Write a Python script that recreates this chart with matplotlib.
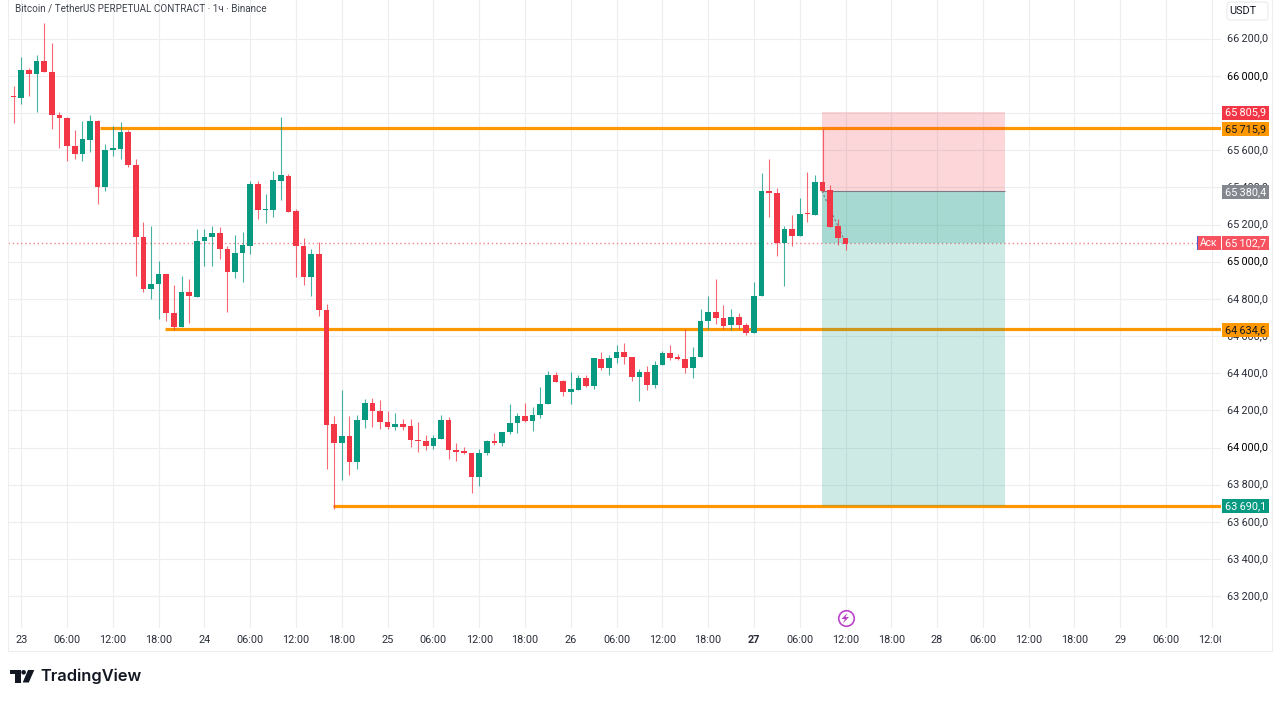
import matplotlib
matplotlib.use("Agg")
import matplotlib.pyplot as plt
from matplotlib.patches import Rectangle, FancyBboxPatch, Polygon, Circle

plt.rcParams['font.family'] = ['Roboto', 'DejaVu Sans']

hours = list(range(-2, 109))
opens = [65856, 65888, 65883, 66030, 66010, 66078, 66021, 65791, 65773, 65623,
         65578, 65657, 65759, 65400, 65603, 65605, 65698, 65522, 65133, 64853,
         64880, 64934, 64726, 64647, 64837, 64812, 65110, 65131, 65155, 65069,
         64947, 65047, 65087, 65420, 65277, 65278, 65436, 65463, 65271, 65083,
         64920, 65042, 64742, 64124, 64024, 64061, 63923, 64147, 64239, 64194,
         64137, 64108, 64127, 64115, 64043, 64036, 64007, 64047, 64146, 63988,
         63979, 63970, 63841, 63968, 64036, 64024, 64081, 64131, 64172, 64144,
         64174, 64232, 64389, 64359, 64298, 64312, 64375, 64331, 64478, 64430,
         64482, 64516, 64489, 64382, 64405, 64337, 64443, 64507, 64486, 64477,
         64430, 64487, 64681, 64728, 64697, 64659, 64701, 64661, 64615, 64814,
         65380, 65371, 65101, 65176, 65140, 65258, 65251, 65429, 65386, 65190,
         65127]
highs = [65888, 65947, 66100, 66042, 66112, 66283, 66175, 65804, 65781, 65709,
         65759, 65791, 65763, 65634, 65730, 65752, 65709, 65553, 65214, 65192,
         65002, 64934, 64877, 64923, 64905, 65175, 65176, 65192, 65189, 65087,
         65144, 65158, 65436, 65435, 65365, 65486, 65781, 65472, 65284, 65128,
         65070, 65106, 64773, 64167, 64307, 64172, 64176, 64262, 64267, 64257,
         64194, 64187, 64153, 64151, 64135, 64070, 64070, 64176, 64163, 64027,
         64002, 63970, 63993, 64038, 64077, 64085, 64235, 64187, 64241, 64217,
         64328, 64414, 64407, 64366, 64404, 64388, 64389, 64482, 64512, 64498,
         64554, 64563, 64489, 64423, 64439, 64464, 64518, 64554, 64503, 64636,
         64543, 64746, 64817, 64907, 64765, 64746, 64726, 64672, 64893, 65479,
         65552, 65395, 65192, 65249, 65343, 65482, 65466, 65716, 65414, 65230,
         65127]
lows = [65856, 65746, 65849, 65890, 65804, 66019, 65714, 65612, 65544, 65553,
        65540, 65589, 65311, 65382, 65571, 65553, 65512, 64923, 64836, 64800,
        64689, 64680, 64630, 64647, 64669, 64809, 64977, 64977, 65015, 64728,
        64913, 64888, 65042, 65230, 65209, 65243, 65332, 65269, 64918, 64875,
        64816, 64706, 63885, 63669, 63823, 63851, 63882, 64104, 64110, 64102,
        64102, 64097, 64097, 64002, 63975, 63988, 63991, 64045, 63939, 63930,
        63966, 63758, 63794, 63959, 64011, 64006, 64074, 64076, 64137, 64090,
        64160, 64232, 64350, 64276, 64232, 64310, 64328, 64313, 64419, 64389,
        64453, 64450, 64360, 64252, 64310, 64321, 64443, 64469, 64471, 64403,
        64376, 64487, 64638, 64667, 64638, 64633, 64636, 64604, 64615, 64814,
        65242, 65029, 64869, 65086, 65140, 65215, 65251, 65373, 65185, 65092,
        65063]
closes = [65888, 65884, 66032, 66010, 66078, 66019, 65790, 65771, 65621, 65578,
          65659, 65759, 65400, 65601, 65608, 65698, 65519, 65131, 64853, 64880,
          64934, 64726, 64646, 64837, 64814, 65112, 65133, 65155, 65067, 64947,
          65049, 65089, 65420, 65278, 65280, 65438, 65465, 65269, 65083, 64920,
          65042, 64739, 64122, 64025, 64063, 63923, 64149, 64239, 64194, 64135,
          64108, 64127, 64113, 64043, 64033, 64007, 64049, 64146, 63986, 63975,
          63968, 63841, 63970, 64036, 64024, 64085, 64133, 64172, 64144, 64176,
          64235, 64389, 64355, 64298, 64314, 64375, 64332, 64482, 64430, 64484,
          64516, 64487, 64382, 64407, 64337, 64446, 64509, 64482, 64475, 64430,
          64489, 64683, 64728, 64695, 64654, 64703, 64659, 64615, 64815, 65380,
          65369, 65101, 65176, 65140, 65257, 65255, 65429, 65382, 65188, 65127,
          65097]

price_ticks = [66200, 66000, 65800, 65600, 65400, 65200, 65000, 64800, 64600,
               64400, 64200, 64000, 63800, 63600, 63400, 63200]
time_ticks = [0, 6, 12, 18, 24, 30, 36, 42, 48, 54, 60, 66, 72, 78, 84, 90, 96,
              102, 108, 114, 120, 126, 132, 138, 144, 150, 156]
time_labels = ['23', '06:00', '12:00', '18:00', '24', '06:00', '12:00', '18:00',
               '25', '06:00', '12:00', '18:00', '26', '06:00', '12:00', '18:00',
               '27', '06:00', '12:00', '18:00', '28', '06:00', '12:00', '18:00',
               '29', '06:00', '12:00']

level_top = 65718.0
level_mid = 64637.0
level_low = 63684.0
level_top_start, level_mid_start, level_low_start = 10.3, 18.8, 40.9
stop_price, entry_price, target_price = 65805.9, 65380.4, 63684.0
current_price = 65102.7
box_start, box_end = 104.9, 128.9
signal_hour = 108
signal_price = 63082

GREEN = '#089981'
RED = '#f23645'
ORANGE = '#ff9800'
GRID = '#edeef0'
TXT = '#131722'
TXT2 = '#2a2e39'

W, H = 1280, 701
fig = plt.figure(figsize=(W / 100, H / 100), dpi=100, facecolor='white')


def axes_px(x0, y0, x1, y1, **kw):
    return fig.add_axes([x0 / W, 1 - y1 / H, (x1 - x0) / W, (y1 - y0) / H], **kw)


PANE_L, PANE_R, PANE_B = 8, 1221, 628
ylim = (63029, 66408)
xlim = (-1.743, 157.2)

ax = axes_px(PANE_L, 0, PANE_R, PANE_B)
ax.set_xlim(xlim)
ax.set_ylim(ylim)
for s in ax.spines.values():
    s.set_visible(False)
ax.set_xticks(time_ticks)
ax.set_yticks(price_ticks)
ax.tick_params(left=False, bottom=False, labelleft=False, labelbottom=False)
ax.grid(True, color=GRID, lw=0.85, zorder=0)
ax.set_axisbelow(True)

# horizontal levels, under the position tool
ax.hlines(level_top, level_top_start, xlim[1], color=ORANGE, lw=2.3, zorder=2)
ax.hlines(level_mid, level_mid_start, xlim[1], color=ORANGE, lw=2.3, zorder=2)
ax.hlines(level_low, level_low_start, xlim[1], color=ORANGE, lw=2.3, zorder=2)

# current price line
ax.hlines(current_price, xlim[0], xlim[1], color='#f7828c', lw=1.0,
          linestyles=(0, (1, 2)), zorder=2)

# position tool
bw = box_end - box_start
ax.add_patch(Rectangle((box_start, entry_price), bw, stop_price - entry_price,
                       fc=RED, alpha=0.2, lw=0, zorder=3))
ax.add_patch(Rectangle((box_start, target_price), bw, entry_price - target_price,
                       fc=GREEN, alpha=0.2, lw=0, zorder=3))
ax.add_patch(Rectangle((box_start, current_price), bw, entry_price - current_price,
                       fc=GREEN, alpha=0.2, lw=0, zorder=3))
ax.hlines(entry_price, box_start, box_end, color='#787b86', lw=0.8, zorder=3)
ax.plot([box_start, hours[-1]], [entry_price, current_price], color='#787b86',
        lw=0.8, ls=(0, (2, 2)), zorder=3)

# candles
colors = [GREEN if c >= o else RED for o, c in zip(opens, closes)]
ax.vlines(hours, lows, highs, colors=colors, lw=0.8, zorder=4, alpha=0.75)
ax.bar(hours, [max(abs(c - o), 6) for o, c in zip(opens, closes)],
       bottom=[min(o, c) for o, c in zip(opens, closes)], width=0.74,
       color=colors, lw=0, zorder=5)

# signal icon
ax.scatter([signal_hour], [signal_price], s=125, facecolor='white', edgecolor='#ba44c8',
           lw=1.2, zorder=6)

ax.text(6.6 / (PANE_R - PANE_L), 1 - 8.5 / PANE_B,
        'Bitcoin / TetherUS PERPETUAL CONTRACT \u00b7 1\u0447 \u00b7 Binance',
        transform=ax.transAxes, fontsize=7.1, color='#3f434e', va='center', ha='left')

# time scale
tax = axes_px(PANE_L, PANE_B, PANE_R, 651)
tax.set_xlim(xlim)
tax.set_ylim(1, 0)
tax.axis('off')
for h, lab in zip(time_ticks, time_labels):
    tax.text(h, 0.53, lab, ha='center', va='center', fontsize=7.8, color=TXT2,
             clip_on=True, fontweight='bold' if lab == '27' else 'normal')

# price scale
pax = axes_px(PANE_R, 0, 1272, PANE_B)
pax.set_xlim(0, 51)
pax.set_ylim(ylim)
pax.axis('off')


def fmt(v):
    s = f'{v:,.1f}'
    return s.replace(',', '\u2009').replace('.', ',')


for v in price_ticks:
    major = v % 1000 == 0
    pax.text(26.5, v, fmt(v), ha='center', va='center', fontsize=7.8,
             color='#000000' if major else TXT2)

price_tags = [(65805.9, RED, 'white'), (65715.9, ORANGE, TXT), (65380.4, '#85878f', 'white'),
              (65102.7, '#f7525f', 'white'), (64634.6, ORANGE, TXT), (63690.1, GREEN, 'white')]
for v, fc, tc in price_tags:
    pax.add_patch(Rectangle((0.8, v - 37 - 4), 47, 75, fc=fc, lw=0, zorder=5))
    pax.text(24.3, v - 4, fmt(v), ha='center', va='center', fontsize=7.8, color=tc, zorder=6)

# chrome drawn in pixel space
ov = fig.add_axes([0, 0, 1, 1], facecolor='none')
ov.set_xlim(0, W)
ov.set_ylim(H, 0)
ov.axis('off')
frame = '#eeeeee'
ov.plot([8, 8, 1272, 1272], [0, 651, 651, 0], color=frame, lw=0.8)
ov.add_patch(Rectangle((1197, 236), 24, 14, fc='#f7525f', lw=0))
ov.add_patch(Rectangle((1196.6, 236), 1, 14, fc='#4a5fd0', lw=0))
ov.text(1209, 243.3, '\u0410\u0441\u043a', color='white', fontsize=7.4, ha='center', va='center')
ov.add_patch(FancyBboxPatch((1227, 2), 41, 18, boxstyle='round,pad=0,rounding_size=3',
                            fc='white', ec='#eeeeee', lw=1))
ov.text(1243, 11.3, 'USDT', color=TXT, fontsize=7.8, ha='center', va='center')

# signal bolt
ov.add_patch(Polygon([(847.5, 612.8), (841.5, 619), (844.8, 619), (843, 623.3), (849, 617),
                      (845.6, 617)], fc='#ba44c8', lw=0))

# TradingView logo
ov.add_patch(Polygon([(10, 670), (20.8, 670), (20.8, 682.5), (14.8, 682.5), (14.8, 674.3), (10, 674.3)],
                     fc='#131722', lw=0))
ov.add_patch(Circle((23.6, 672.3), 2.3, fc='#131722', lw=0))
ov.add_patch(Polygon([(28, 670), (34.3, 670), (28.8, 682.5), (22.7, 682.5)], fc='#131722', lw=0))
ov.text(40.5, 676.5, 'TradingView', color='#131722', fontsize=11.8, fontweight='semibold',
        family=['Inter', 'DejaVu Sans'], ha='left', va='center')

fig.savefig('out.png', dpi=100, facecolor='white')
